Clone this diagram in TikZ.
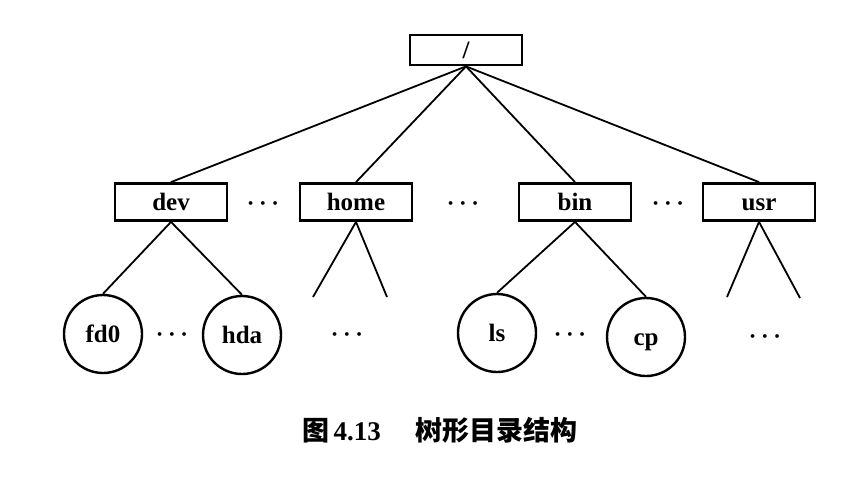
\documentclass[tikz,border=0pt]{standalone}
\usepackage{fontspec}
\setmainfont{Liberation Serif}
\newfontfamily\cjk{Noto Sans CJK SC}
\usetikzlibrary{positioning}

\tikzset{
  dirbox/.style={draw,line width=1.4pt,minimum width=56pt,minimum height=18.5pt,
    inner sep=0pt,text height=10pt,text depth=2pt,
    font=\fontsize{12.5}{14}\selectfont\bfseries},
  filenode/.style={draw,circle,line width=1.2pt,minimum size=39pt,inner sep=0pt,
    text height=10pt,text depth=2pt,
    font=\fontsize{12.5}{14}\selectfont\bfseries},
  gap/.style={font=\fontsize{12}{14}\selectfont\boldmath},
  edge/.style={line width=0.9pt}
}

\begin{document}
\begin{tikzpicture}[x=0.5pt,y=-0.5pt]
  \useasboundingbox (0,0) rectangle (844,493);

  % root directory
  \node[dirbox,minimum height=15pt] (root) at (466,50) {/};

  % first level
  \node[dirbox] (dev)  at (171,202) {dev};
  \node[dirbox] (home) at (356,202) {home};
  \node[dirbox] (bin)  at (575,202) {bin};
  \node[dirbox] (usr)  at (759,202) {usr};
  \node[gap] (g1) at (263,204) {$\cdots$};
  \node[gap] (g2) at (463,204) {$\cdots$};
  \node[gap] (g3) at (668,204) {$\cdots$};

  \foreach \d in {dev,home,bin,usr}
    \draw[edge] (root.south) -- (\d.north);

  % files
  \node[filenode] (fd0) at (103,334) {fd0};
  \node[filenode] (hda) at (242,335) {hda};
  \node[filenode] (ls)  at (497,333) {ls};
  \node[filenode] (cp)  at (646,337) {cp};
  \node[gap] (g4) at (172,335) {$\cdots$};
  \node[gap] (g5) at (347,335) {$\cdots$};
  \node[gap] (g6) at (570,335) {$\cdots$};
  \node[gap] (g7) at (765,337) {$\cdots$};

  % open subtrees
  \coordinate (homeL) at (313,297);
  \coordinate (homeR) at (387,297);
  \coordinate (usrL)  at (727,297);
  \coordinate (usrR)  at (800,298);

  \draw[edge] (fd0.north) -- (dev.south) -- (hda.north);
  \draw[edge] (homeL) -- (home.south) -- (homeR);
  \draw[edge] (ls.north) -- (bin.south) -- (cp.north);
  \draw[edge] (usrL) -- (usr.south) -- (usrR);

  % caption
  \node (cap) at (440,430) {\fontsize{13.5}{15}\selectfont\bfseries
    {\cjk 图}\,4.13\hspace{1.3em}{\cjk 树形目录结构}};
\end{tikzpicture}
\end{document}
